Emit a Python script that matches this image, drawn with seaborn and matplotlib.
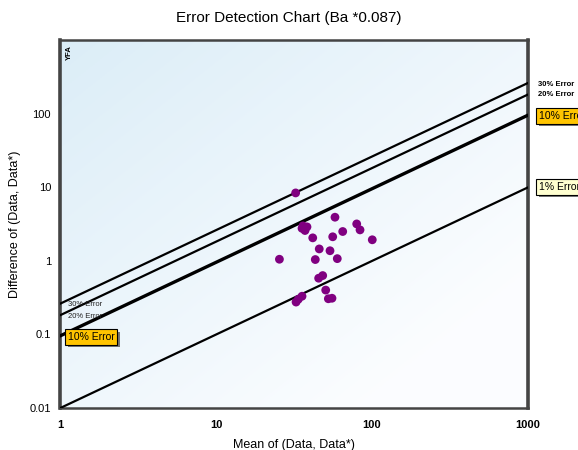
import numpy as np
import pandas as pd
import matplotlib
matplotlib.use("Agg")
import matplotlib.pyplot as plt
import matplotlib.patheffects as pe
import seaborn as sns

# ---- data ----
mean_vals = [32.4, 57.9, 36.1, 38.3, 35.6, 37.2, 41.7, 56.0, 64.9, 79.8, 83.8, 100.4,
             45.9, 53.8, 25.5, 43.3, 59.9, 48.3, 45.5, 50.5, 35.6, 33.7, 32.6, 52.5, 55.4]
diff_vals = [8.36, 3.91, 2.98, 2.89, 2.76, 2.58, 2.05, 2.12, 2.50, 3.17, 2.63, 1.93,
             1.45, 1.37, 1.05, 1.04, 1.07, 0.63, 0.58, 0.40, 0.33, 0.30, 0.275, 0.305, 0.31]
error_levels = [0.30, 0.20, 0.10, 0.01]
error_labels = ["30% Error", "20% Error", "10% Error", "1% Error"]
x_ticks = [1, 10, 100, 1000]
x_ticklabels = ["1", "10", "100", "1000"]
y_ticks = [0.01, 0.1, 1, 10, 100]
y_ticklabels = ["0.01", "0.1", "1", "10", "100"]

sns.set_style("white")
plt.rcParams['font.family'] = ['Liberation Sans', 'DejaVu Sans']
plt.rcParams['text.color'] = 'black'
plt.rcParams['axes.labelcolor'] = 'black'
plt.rcParams['xtick.color'] = 'black'
plt.rcParams['ytick.color'] = 'black'

fig = plt.figure(figsize=(5.78, 4.5), dpi=100)
ax = fig.add_axes([60/578, 42/450, 468/578, 368/450])

# background gradient: light blue top-left, fading to white bottom-right
gx, gy = np.meshgrid(np.linspace(0, 1, 200), np.linspace(0, 1, 200))
t = np.clip((gx * 0.8 + gy * 0.8) / 1.3, 0, 1)
c0 = np.array([0.86, 0.93, 0.97])
c1 = np.array([0.985, 0.992, 1.0])
img = c0[None, None, :] * (1 - t[..., None]) + c1[None, None, :] * t[..., None]
ax.imshow(img, extent=[0, 1, 0, 1], transform=ax.transAxes, aspect='auto',
          origin='upper', zorder=0)

xs = np.logspace(0, 3, 200)
for lev, lab in zip(error_levels, error_labels):
    ratio = lev / (1 + lev / 2)
    df_line = pd.DataFrame({"x": xs, "y": xs * ratio})
    lw = 2.4 if lev == 0.10 else 1.6
    sns.lineplot(data=df_line, x="x", y="y", ax=ax, color="black", lw=lw, zorder=3)

df = pd.DataFrame({"mean": mean_vals, "diff": diff_vals})
sns.scatterplot(data=df, x="mean", y="diff", ax=ax, color="#800080", s=40,
                edgecolor="none", zorder=4)

ax.set_xscale("log")
ax.set_yscale("log")
ax.set_xlim(1, 1000)
ax.set_ylim(0.01, 1000)
ax.set_xticks(x_ticks)
ax.set_xticklabels(x_ticklabels, fontweight="bold")
ax.set_yticks(y_ticks)
ax.set_yticklabels(y_ticklabels)
ax.minorticks_off()
ax.tick_params(axis="both", labelsize=8, length=3, direction="out", color="#888888")
ax.tick_params(axis="x", pad=6)
for sp in ax.spines.values():
    sp.set_color("#444444")
    sp.set_linewidth(1.8)
ax.spines["left"].set_linewidth(2.6)
ax.spines["right"].set_linewidth(2.6)

ax.set_xlabel("Mean of (Data, Data*)", fontsize=9, labelpad=6)
ax.set_ylabel("Difference of (Data, Data*)", fontsize=9, labelpad=6)
fig.text(289/578, 1 - 18/450, "Error Detection Chart (Ba *0.087)", ha="center",
         va="center", fontsize=11)

ax.text(0.012, 0.985, "YFA", transform=ax.transAxes, rotation=90, fontsize=5.5,
        fontweight="bold", ha="left", va="top")

# label helpers
def fig_xy(px, py):
    return px / 578, 1 - py / 450

def boxed(px, py, text, fc):
    t = fig.text(*fig_xy(px, py), text, fontsize=7.5, va="center", zorder=6,
                 bbox=dict(boxstyle="square,pad=0.25", fc=fc, ec="black", lw=0.8))
    t.get_bbox_patch().set_path_effects(
        [pe.SimplePatchShadow(offset=(2, -2), shadow_rgbFace="#555555", alpha=0.8),
         pe.Normal()])

# right side labels
fig.text(*fig_xy(538, 84), "30% Error", fontsize=5.5, fontweight="bold", va="center")
fig.text(*fig_xy(538, 94), "20% Error", fontsize=5.5, fontweight="bold", va="center")
boxed(539, 116, "10% Error", "#FFC400")
boxed(539, 187, "1% Error", "#FFFFD0")

# left side labels
fig.text(*fig_xy(68, 304), "30% Error", fontsize=5.5, va="center", color="#222222")
fig.text(*fig_xy(68, 316), "20% Error", fontsize=5.5, va="center", color="#222222")
boxed(68, 337, "10% Error", "#FFC400")

fig.savefig("out.png", dpi=100)
